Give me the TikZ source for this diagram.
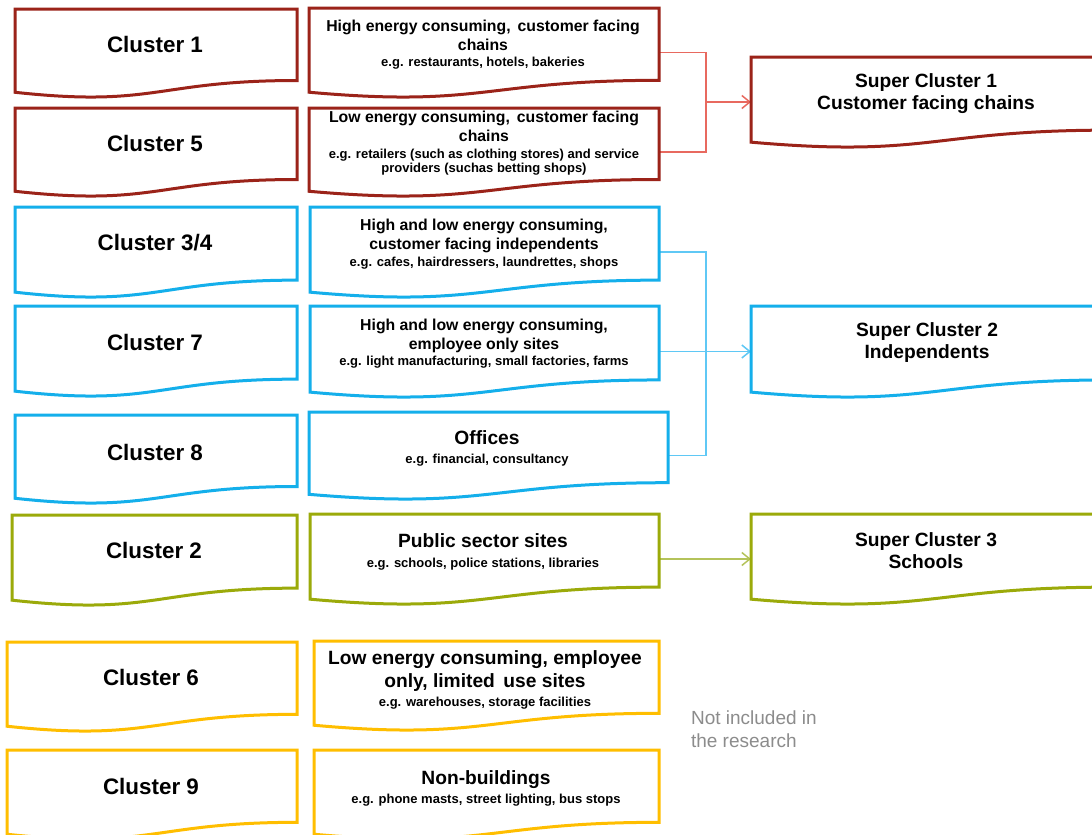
\documentclass[tikz,border=0pt]{standalone}
\usepackage{fontspec}
\setmainfont{Liberation Sans}
\usetikzlibrary{calc,fit,arrows.meta}
\definecolor{cRed}{RGB}{155,35,25}
\definecolor{cRedL}{RGB}{232,105,95}
\definecolor{cBlue}{RGB}{20,175,235}
\definecolor{cBlueL}{RGB}{95,200,245}
\definecolor{cGreen}{RGB}{155,170,10}
\definecolor{cGreenL}{RGB}{180,195,90}
\definecolor{cYellow}{RGB}{255,190,0}
\definecolor{cGray}{RGB}{140,140,140}
\newcommand\docoutline[2]{%
  \draw[#2, line width=1.5pt, line join=miter]
  (#1.north west) -- (#1.north east) -- ($(#1.north east)!0.8126!(#1.south east)$)
  .. controls ($(#1.north)!0.8126!(#1.south)$) and ($(#1.north)!1.1221!(#1.south)$) ..
  ($(#1.north west)!0.9463!(#1.south west)$) -- cycle;}
\newcommand\exf{\fontsize{6.5}{7.8}\selectfont}
\begin{document}
\begin{tikzpicture}[x=0.5pt,y=-0.5pt,
  box/.style={inner sep=0pt, outer sep=0pt},
  cl/.style={font=\fontsize{11.2}{13}\selectfont\bfseries},
  ti/.style={align=center, font=\fontsize{7.9}{9.5}\selectfont\bfseries},
  tb/.style={align=center, font=\fontsize{9.6}{11.5}\selectfont\bfseries},
  con/.style={line width=0.75pt},
  arr/.style={-{Straight Barb[length=4pt,width=6.5pt]}}]
\useasboundingbox (0,0) rectangle (1092,835);
\clip (0,0) rectangle (1092,835);
\fill[white] (0,0) rectangle (1092,835);

% left column boxes
\node[box, fit={(15,9) (297,97)}] (c1) {};
\node[box, fit={(15,108) (297,196)}] (c5) {};
\node[box, fit={(15,207) (297,297)}] (c34) {};
\node[box, fit={(15,306) (297,396)}] (c7) {};
\node[box, fit={(15,415) (297,503)}] (c8) {};
\node[box, fit={(12,515) (297,605)}] (c2) {};
\node[box, fit={(7,642) (297,731)}] (c6) {};
\node[box, fit={(7,750) (297,839)}] (c9) {};
% middle column boxes
\node[box, fit={(309,8) (659,97)}] (d1) {};
\node[box, fit={(309,108) (659,196)}] (d5) {};
\node[box, fit={(310,207) (659,297)}] (d34) {};
\node[box, fit={(310,306) (659,397)}] (d7) {};
\node[box, fit={(309,412) (668,499)}] (d8) {};
\node[box, fit={(310,514) (659,604)}] (d2) {};
\node[box, fit={(314,641) (659,730)}] (d6) {};
\node[box, fit={(314,750) (659,839)}] (d9) {};
% super clusters
\node[box, fit={(751,57) (1110,147)}] (s1) {};
\node[box, fit={(751,306) (1110,397)}] (s2) {};
\node[box, fit={(751,514) (1110,604)}] (s3) {};

% connectors
\coordinate (jr) at (706,0);
\draw[con, cRedL] (d1.east) -- (d1.east -| jr) -- (d5.east -| jr) -- (d5.east);
\draw[con, cRedL, arr] (s1.west -| jr) -- (s1.west);
\coordinate (jb) at (706,0);
\draw[con, cBlueL] (d34.east) -- (d34.east -| jb) -- (d8.east -| jb) -- (d8.east);
\draw[con, cBlueL, arr] (d7.east) -- (s2.west);
\draw[con, cGreenL, arr] (d2.east) -- (s3.west);

% outlines
\docoutline{c1}{cRed}\docoutline{c5}{cRed}
\docoutline{d1}{cRed}\docoutline{d5}{cRed}\docoutline{s1}{cRed}
\docoutline{c34}{cBlue}\docoutline{c7}{cBlue}\docoutline{c8}{cBlue}
\docoutline{d34}{cBlue}\docoutline{d7}{cBlue}\docoutline{d8}{cBlue}\docoutline{s2}{cBlue}
\docoutline{c2}{cGreen}\docoutline{d2}{cGreen}\docoutline{s3}{cGreen}
\docoutline{c6}{cYellow}\docoutline{c9}{cYellow}
\docoutline{d6}{cYellow}\docoutline{d9}{cYellow}

% texts
\node[cl] (c1t) at (155,44) {Cluster 1};
\node[cl] (c5t) at (155,143) {Cluster 5};
\node[cl] (c34t) at (155,243) {Cluster 3/4};
\node[cl] (c7t) at (155,342) {Cluster 7};
\node[cl] (c8t) at (155,452) {Cluster 8};
\node[cl] (c2t) at (154,550) {Cluster 2};
\node[cl] (c6t) at (151,677) {Cluster 6};
\node[cl] (c9t) at (151,786) {Cluster 9};

\node[ti] (d1t) at (483,45) {High energy consuming,\, customer facing\\chains\\[-1.5pt]\exf e.g. restaurants, hotels, bakeries};
\node[ti] (d5t) at (484,143) {Low energy consuming,\, customer facing\\chains\\[-1pt]\exf e.g. retailers (such as clothing stores) and service\\[-2.5pt]\exf providers (suchas betting shops)};
\node[ti] (d34t) at (484,244) {High and low energy consuming,\\customer facing independents\\[-1pt]\exf e.g. cafes, hairdressers, laundrettes, shops};
\node[ti] (d7t) at (484,343.5) {High and low energy consuming,\\employee only sites\\[-1.5pt]\exf e.g. light manufacturing, small factories, farms};
\node[tb] (d8t) at (487,448.5) {Offices\\[-2pt]\exf e.g. financial, consultancy};
\node[tb] (d2t) at (483,552) {Public sector sites\\[-1.5pt]\exf e.g. schools, police stations, libraries};
\node[tb] (d6t) at (485,680) {Low energy consuming, employee\\only, limited\, use sites\\[-2pt]\exf e.g. warehouses, storage facilities};
\node[tb] (d9t) at (486,788) {Non-buildings\\[-2pt]\exf e.g. phone masts, street lighting, bus stops};

\node[tb, font=\fontsize{9.6}{11}\selectfont\bfseries] (s1t) at (926,94) {Super Cluster 1\\Customer facing chains};
\node[tb, font=\fontsize{9.6}{11}\selectfont\bfseries] (s2t) at (927,342.5) {Super Cluster 2\\Independents};
\node[tb, font=\fontsize{9.6}{11}\selectfont\bfseries] (s3t) at (926,551) {Super Cluster 3\\Schools};

\node[anchor=west, align=left, text=cGray, font=\fontsize{9.5}{11.5}\selectfont] (note) at (684,729.5) {Not included in\\the research};
\end{tikzpicture}
\end{document}
